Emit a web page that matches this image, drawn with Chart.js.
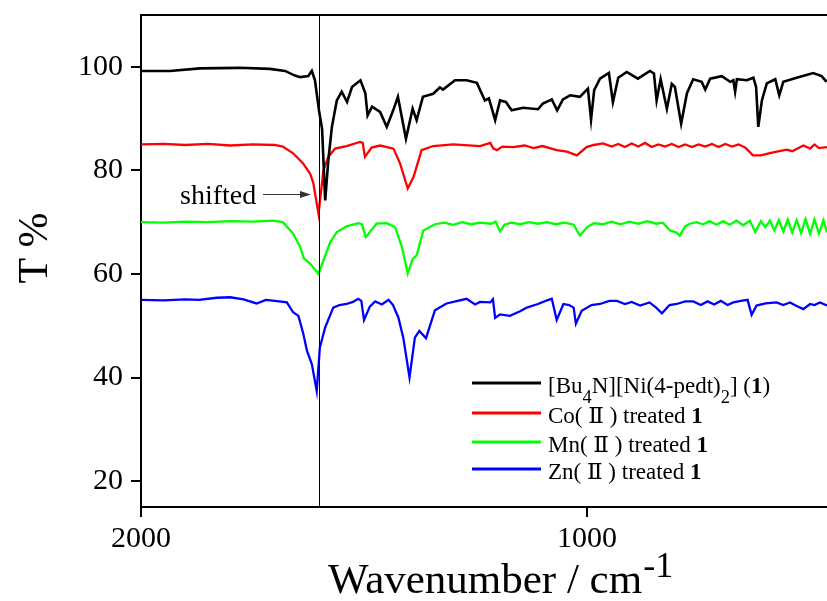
<!DOCTYPE html>
<html>
<head>
<meta charset="utf-8">
<script src="https://cdn.jsdelivr.net/npm/chart.js@4.4.1/dist/chart.umd.min.js"></script>
<style>
  html, body { margin: 0; padding: 0; background: #fff; }
  #wrap { width: 827px; height: 601px; position: relative; }
</style>
</head>
<body>
<div id="wrap"><canvas id="irChart"></canvas></div>
<script>
// IR spectra, wavenumber (cm-1) vs transmittance (%)
const blackWn = [2000,1935,1868,1780,1711,1677,1655,1643,1625,1617,1610,1601,1594,1590,1587,1580,1572,1561,1550,1538,1527,1508,1497,1492,1482,1464,1449,1435,1424,1406,1391,1382,1368,1345,1330,1323,1296,1270,1247,1229,1220,1206,1195,1182,1169,1143,1110,1099,1079,1067,1054,1038,1016,998,991,984,971,951,942,930,911,886,859,850,844,835,821,810,803,789,776,762,743,735,724,698,679,672,668,664,642,627,621,616,608,597,578,569,560,530,493,474,463];
const blackT = [99.2,99.2,99.7,99.8,99.6,99.2,98.3,98.0,98.2,99.2,97.4,91.6,88.0,80.0,74.2,82.0,88.4,93.5,95.2,93.2,96.1,97.4,94.9,90.6,92.3,91.3,88.4,91.5,94.2,86.1,91.9,89.7,94.2,94.8,96.0,95.6,97.4,97.4,96.9,93.5,93.9,89.7,93.5,93.2,91.6,92.1,91.8,92.9,93.7,91.6,93.7,94.5,94.2,95.8,89.8,95.5,97.7,98.8,93.2,97.9,99.0,97.7,99.2,98.7,93.5,97.6,91.9,96.7,96.1,89.0,94.9,97.6,97.1,95.6,97.7,98.2,97.1,97.4,95.2,97.6,97.4,97.9,96.1,88.4,93.5,96.8,97.6,94.5,97.1,97.9,98.8,98.2,97.1];

const redWn = [2000,1950,1900,1850,1800,1750,1700,1682,1659,1637,1621,1614,1602,1591,1580,1565,1539,1509,1503,1498,1483,1464,1434,1419,1402,1389,1371,1345,1300,1240,1217,1210,1202,1190,1166,1140,1120,1100,1068,1045,1023,1001,985,964,945,930,915,900,885,870,855,840,825,810,795,780,765,750,735,720,705,690,675,660,645,628,610,597,580,552,540,515,500,490,480,462];
const redT = [85.0,85.1,84.9,85.1,84.8,85.0,84.9,84.6,83.3,81.4,79.4,77.7,71.6,80.0,82.6,84.2,84.7,85.5,85.3,82.6,84.4,84.8,84.2,81.3,76.5,78.7,83.9,84.7,85.0,84.7,85.3,84.2,83.9,84.6,84.5,84.8,84.3,84.7,83.9,83.6,82.9,84.5,84.9,85.2,84.6,85.1,84.5,85.2,84.6,85.3,84.5,85.0,84.6,85.1,84.5,85.0,84.5,85.0,84.6,85.1,84.5,85.1,84.6,85.0,84.4,82.9,82.9,83.2,83.5,84.0,83.7,84.8,84.2,85.0,84.3,84.5];

const greenWn = [2000,1950,1900,1850,1800,1750,1704,1682,1659,1643,1635,1621,1602,1591,1576,1561,1539,1513,1505,1496,1472,1449,1430,1415,1402,1391,1382,1367,1341,1320,1300,1280,1260,1240,1215,1205,1195,1185,1170,1150,1130,1110,1090,1070,1050,1030,1016,1000,985,965,945,925,905,885,865,845,830,814,800,792,780,770,755,740,725,710,695,680,665,650,635,623,610,600,590,580,570,560,550,540,530,520,510,500,490,480,470,462];
const greenT = [70.0,69.9,70.1,70.0,70.2,70.1,70.3,70.0,67.8,65.2,63.0,62.0,60.0,62.6,66.1,68.1,69.2,69.8,69.6,67.1,69.7,69.8,69.0,65.2,60.1,62.9,63.6,68.4,69.6,69.9,69.5,70.0,69.6,69.9,69.7,70.1,68.2,69.5,69.9,69.6,70.0,69.7,70.0,69.6,69.9,69.5,67.4,69.0,69.8,69.6,70.1,69.6,70.1,69.7,70.2,69.7,69.9,68.4,68.0,67.4,69.2,69.7,70.0,69.6,70.2,69.5,70.2,69.5,70.3,69.4,70.3,68.1,70.2,69.0,70.3,68.4,70.4,68.2,70.5,68.0,70.4,67.9,70.6,67.8,70.5,67.8,70.4,68.0];

const blueWn = [2000,1950,1900,1870,1830,1800,1770,1741,1720,1700,1673,1659,1647,1636,1628,1617,1606,1599,1587,1569,1555,1539,1525,1513,1506,1500,1487,1475,1460,1445,1435,1423,1412,1398,1386,1376,1361,1341,1315,1290,1270,1251,1240,1217,1211,1206,1195,1173,1150,1135,1110,1090,1079,1068,1053,1040,1030,1025,1012,990,971,950,933,915,900,881,860,845,832,815,799,780,762,745,730,715,700,685,672,655,640,631,620,600,575,560,545,530,515,500,490,478,462];
const blueT = [55.0,54.9,55.1,55.0,55.4,55.5,55.1,54.3,55.0,54.8,54.5,52.6,51.9,48.4,45.2,42.6,37.4,45.8,49.7,53.5,54.0,54.2,54.6,55.2,54.8,51.1,53.7,54.7,54.1,55.0,54.0,51.6,47.7,40.0,47.7,49.0,47.6,53.0,54.3,54.8,55.2,54.1,54.6,54.5,55.1,51.5,52.2,51.9,52.8,53.5,54.2,54.9,55.2,51.1,54.2,54.0,53.5,50.4,52.9,54.0,54.2,54.8,54.8,54.2,54.6,53.9,54.5,53.5,52.4,54.0,54.2,54.7,54.7,54.0,54.7,54.1,54.8,54.0,54.5,54.8,55.0,52.1,53.9,54.3,54.5,54.0,54.5,53.8,53.2,54.2,54.0,54.5,53.9];

const wnTicks = [2000, 1000];
const tTicks = [20, 40, 60, 80, 100];
const shiftMark = 1600;   // vertical reference line
const seriesColors = ['#000000', '#ff0000', '#00ff00', '#0000ff'];

const SERIF = "'Liberation Serif', 'Times New Roman', 'DejaVu Serif', serif";

function toPoints(xs, ys) {
  return xs.map((x, i) => ({ x: x, y: ys[i] }));
}

// draw a run of text pieces (normal / sub / sup / bold), returns end x
function drawRich(ctx, x, y, parts, size) {
  parts.forEach(p => {
    const fs = (p.sub || p.sup) ? size * 0.8 : size;
    ctx.font = (p.bold ? 'bold ' : '') + fs + 'px ' + SERIF;
    const dy = p.sub ? size * 0.45 : (p.sup ? -size * 0.45 : 0);
    ctx.fillText(p.t, x, y + dy);
    x += ctx.measureText(p.t).width;
  });
  return x;
}

const legendItems = [
  [{ t: '[Bu' }, { t: '4', sub: true }, { t: 'N][Ni(4-pedt)' }, { t: '2', sub: true }, { t: '] (' }, { t: '1', bold: true }, { t: ')' }],
  [{ t: 'Co( Ⅱ ) treated ' }, { t: '1', bold: true }],
  [{ t: 'Mn( Ⅱ ) treated ' }, { t: '1', bold: true }],
  [{ t: 'Zn( Ⅱ ) treated ' }, { t: '1', bold: true }]
];

const decorPlugin = {
  id: 'decor',
  afterDatasetsDraw(chart) {
    const ctx = chart.ctx;
    const area = chart.chartArea;
    const xs = chart.scales.x;
    ctx.save();

    // vertical marker line
    const vx = Math.round(xs.getPixelForValue(shiftMark)) + 0.5;
    ctx.strokeStyle = '#000';
    ctx.lineWidth = 1;
    ctx.beginPath();
    ctx.moveTo(vx, area.top);
    ctx.lineTo(vx, area.bottom);
    ctx.stroke();

    // top frame line
    ctx.lineWidth = 2;
    ctx.beginPath();
    ctx.moveTo(area.left - 1, area.top);
    ctx.lineTo(area.right, area.top);
    ctx.stroke();

    // "shifted" note with arrow
    ctx.fillStyle = '#000';
    ctx.font = '28px ' + SERIF;
    ctx.textBaseline = 'alphabetic';
    ctx.textAlign = 'left';
    ctx.fillText('shifted', 180, 204);
    ctx.strokeStyle = '#333';
    ctx.lineWidth = 1.2;
    ctx.beginPath();
    ctx.moveTo(263, 194.5);
    ctx.lineTo(302, 194.5);
    ctx.stroke();
    ctx.fillStyle = '#333';
    ctx.beginPath();
    ctx.moveTo(311, 194.5);
    ctx.lineTo(300, 191);
    ctx.lineTo(300, 198);
    ctx.closePath();
    ctx.fill();

    // legend
    const rows = [383, 413, 442, 469];
    rows.forEach((ry, i) => {
      ctx.strokeStyle = seriesColors[i];
      ctx.lineWidth = 3;
      ctx.beginPath();
      ctx.moveTo(472, ry);
      ctx.lineTo(541, ry);
      ctx.stroke();
      ctx.fillStyle = '#000';
      drawRich(ctx, 548, ry + 10, legendItems[i], 23);
    });

    // axis titles
    ctx.fillStyle = '#000';
    const endX = drawRich(ctx, 328, 593, [{ t: 'Wavenumber / cm' }], 43);
    ctx.font = '36px ' + SERIF;
    ctx.fillText('-1', endX + 1, 577);

    ctx.translate(47, 248);
    ctx.rotate(-Math.PI / 2);
    ctx.textAlign = 'center';
    ctx.font = '42px ' + SERIF;
    ctx.fillText('T %', 0, 0);

    ctx.restore();
  }
};

const labels = ['[Bu4N][Ni(4-pedt)2] (1)', 'Co(Ⅱ) treated 1', 'Mn(Ⅱ) treated 1', 'Zn(Ⅱ) treated 1'];
const series = [[blackWn, blackT], [redWn, redT], [greenWn, greenT], [blueWn, blueT]];

const ctx = document.getElementById('irChart').getContext('2d');
new Chart(ctx, {
  type: 'line',
  data: {
    datasets: series.map((s, i) => ({
      label: labels[i],
      data: toPoints(s[0], s[1]),
      borderColor: seriesColors[i],
      backgroundColor: 'transparent',
      borderWidth: i === 0 ? 2.6 : 2.3,
      pointRadius: 0,
      tension: 0,
      fill: false
    }))
  },
  options: {
    responsive: true,
    maintainAspectRatio: false,
    animation: false,
    layout: { padding: { top: 15, left: 0, right: 0, bottom: 0 } },
    plugins: {
      legend: { display: false },
      tooltip: { enabled: false }
    },
    scales: {
      x: {
        type: 'linear',
        reverse: true,
        min: 462,
        max: 2000,
        afterBuildTicks: s => { s.ticks = wnTicks.map(v => ({ value: v })); },
        afterFit: s => { s.height = 94; s.paddingLeft = 0; s.paddingRight = 0; },
        border: { color: '#000', width: 2 },
        grid: { drawOnChartArea: false, color: '#000', lineWidth: 2, tickLength: 10 },
        ticks: { color: '#000', padding: 4, font: { family: SERIF, size: 30 }, callback: v => String(v) }
      },
      y: {
        min: 15,
        max: 110,
        afterBuildTicks: s => { s.ticks = tTicks.map(v => ({ value: v })); },
        afterFit: s => { s.width = 141; s.paddingTop = 0; s.paddingBottom = 0; },
        border: { color: '#000', width: 2 },
        grid: { drawOnChartArea: false, color: '#000', lineWidth: 2, tickLength: 10 },
        ticks: { color: '#000', padding: 8, font: { family: SERIF, size: 30 }, callback: v => String(v) }
      }
    }
  },
  plugins: [decorPlugin]
});
</script>
</body>
</html>
